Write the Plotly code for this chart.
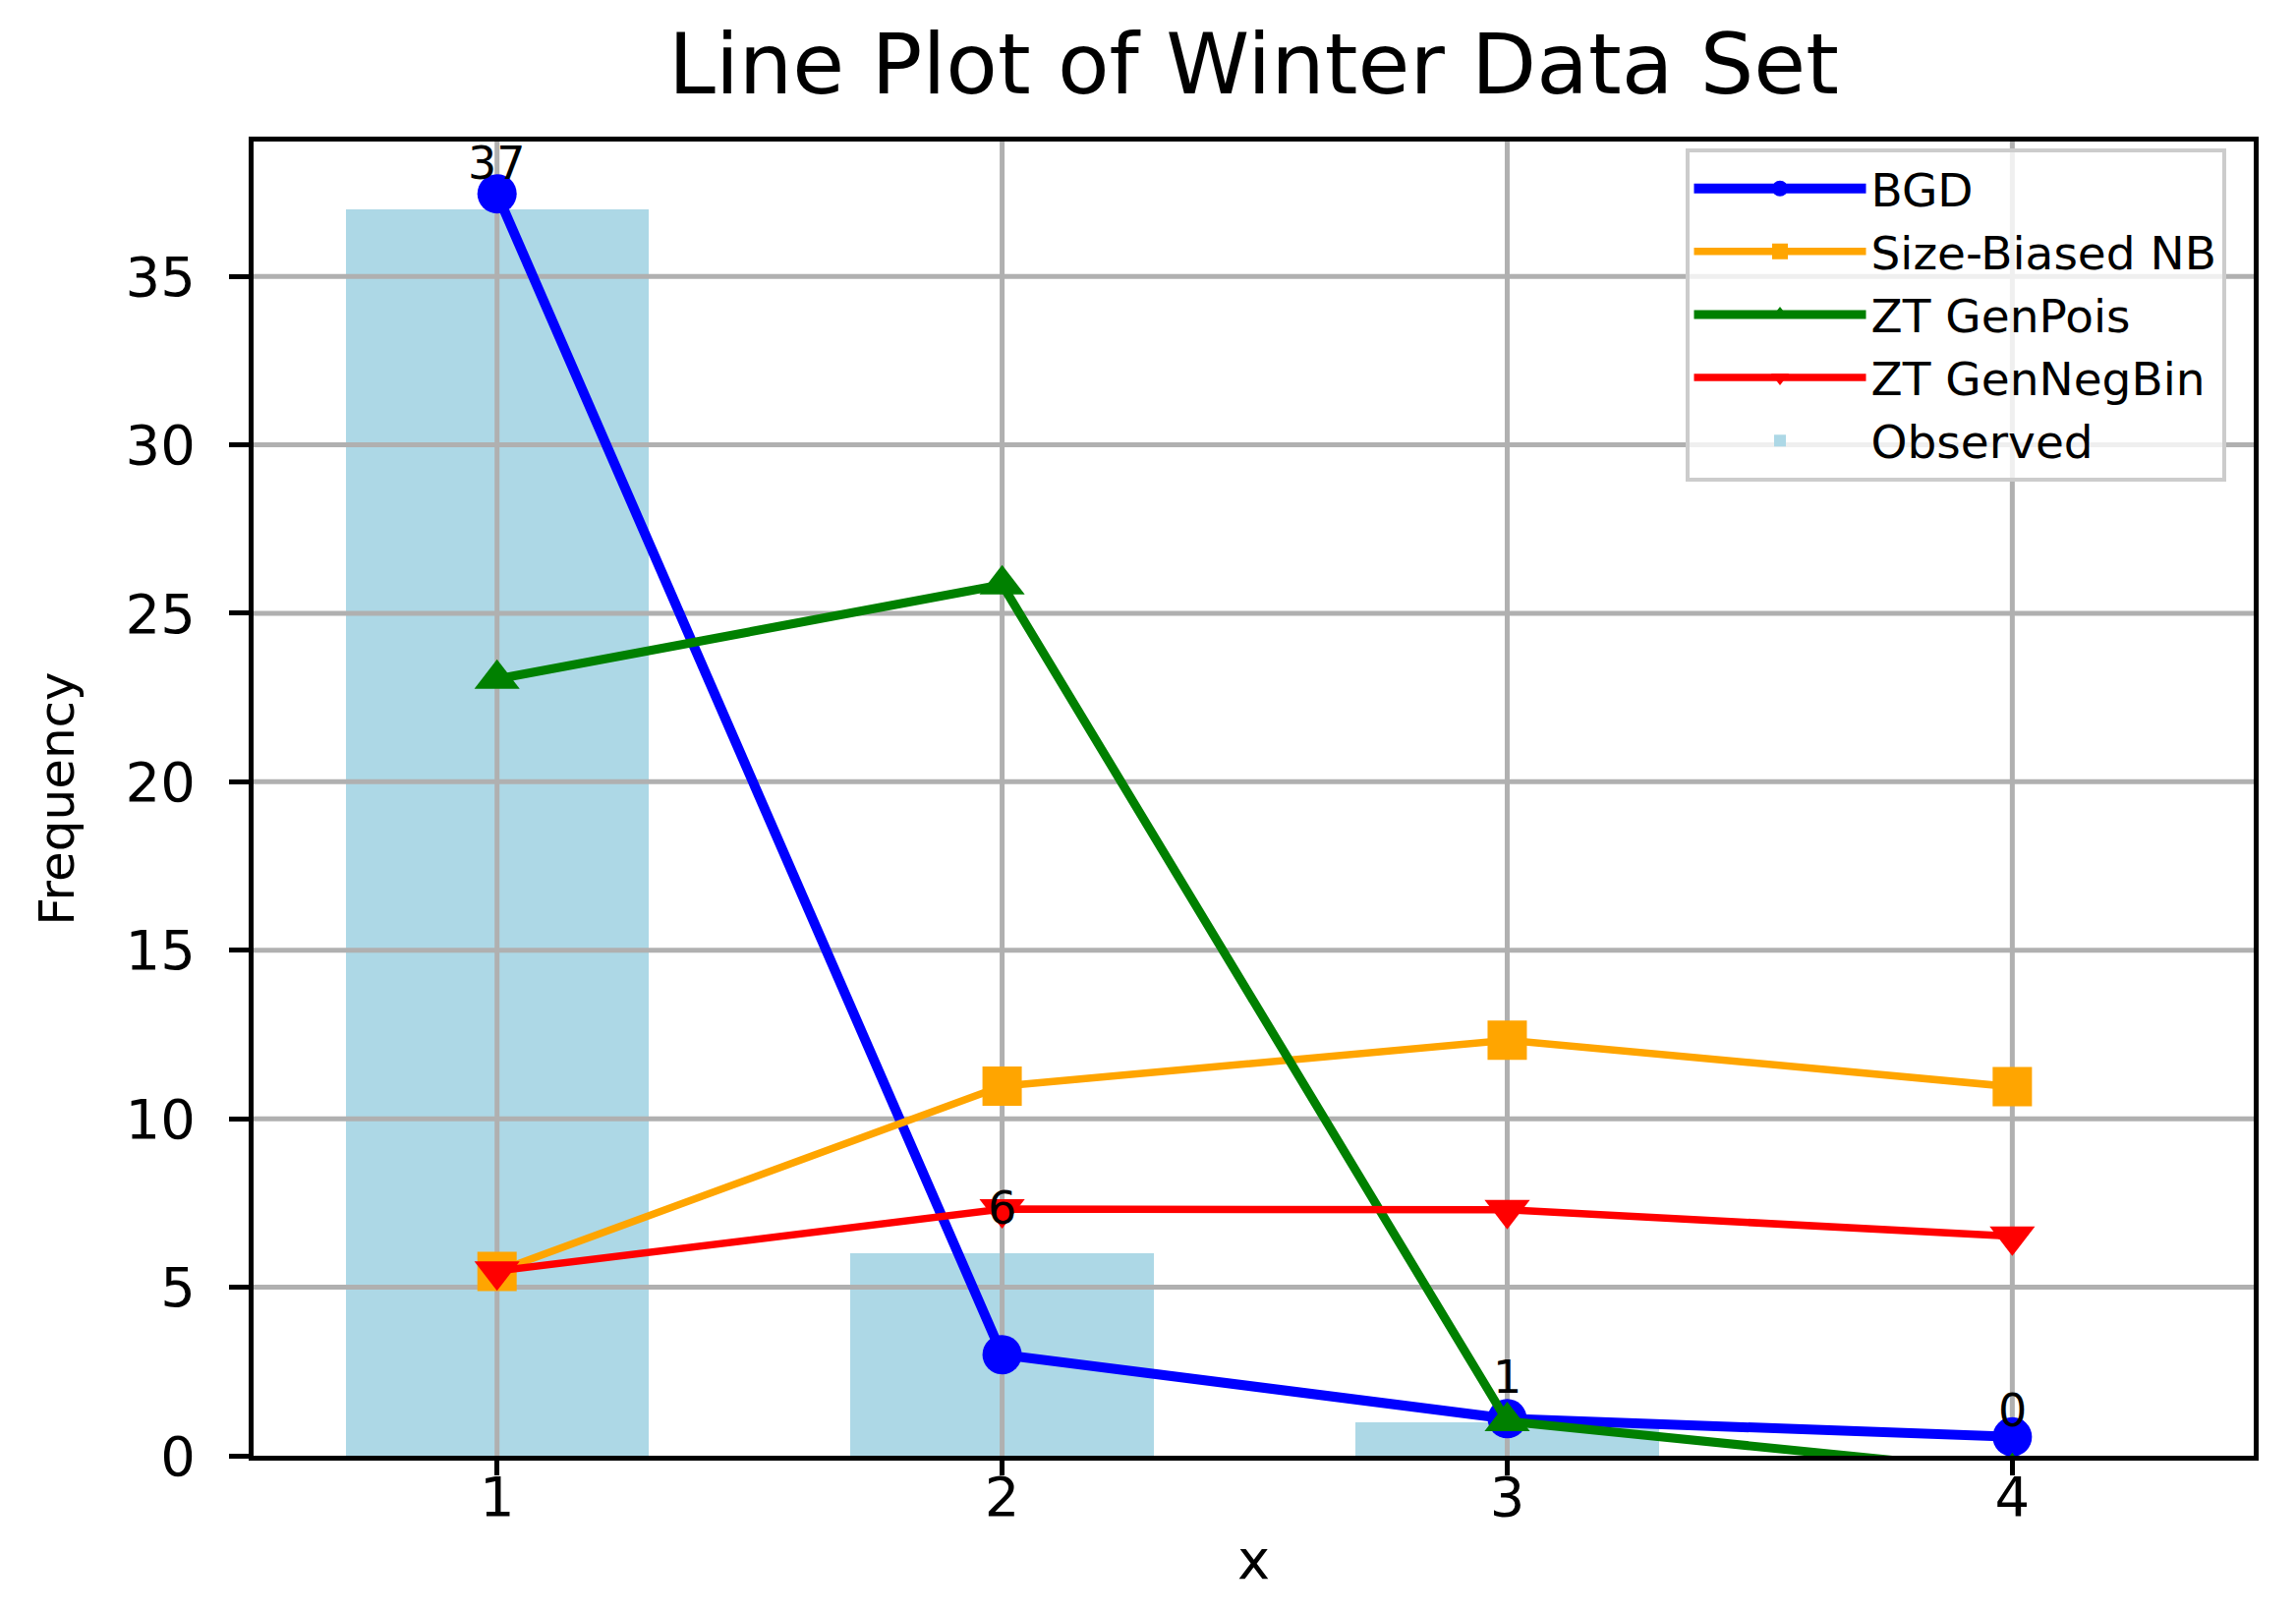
import plotly.graph_objects as go

# ---- data ----
x_vals = [1, 2, 3, 4]
observed = [37, 6, 1, 0]
bgd = [37.45, 3.0, 1.1, 0.56]
size_biased_nb = [5.47, 10.97, 12.33, 10.95]
zt_genpois = [23.05, 25.85, 1.02, -0.49]
zt_gennegbin = [5.48, 7.32, 7.30, 6.51]

x_ticks = [1, 2, 3, 4]
x_ticktext = ["1", "2", "3", "4"]
y_ticks = [0, 5, 10, 15, 20, 25, 30, 35]
y_ticktext = ["0", "5", "10", "15", "20", "25", "30", "35"]

x_range = [0.518, 4.478]
y_range = [0, 39.0]

FONT = "DejaVu Sans"
GRID = "#b0b0b0"

fig = go.Figure()

# grid lines drawn as a trace so they sit above the bars but below the lines
gx, gy = [], []
for yv in y_ticks[1:]:
    gx += [x_range[0], x_range[1], None]
    gy += [yv, yv, None]
for xv in x_ticks:
    gx += [xv, xv, None]
    gy += [y_range[0], y_range[1], None]
fig.add_trace(go.Scatter(x=gx, y=gy, mode="lines", line=dict(color=GRID, width=5),
                         showlegend=False, hoverinfo="skip"))

series = [
    ("BGD", bgd, "#0000ff", "circle", 10),
    ("Size-Biased NB", size_biased_nb, "#ffa500", "square", 7.5),
    ("ZT GenPois", zt_genpois, "#008000", "triangle-up", 9),
    ("ZT GenNegBin", zt_gennegbin, "#ff0000", "triangle-down", 7.5),
]
for name, vals, color, sym, lw in series:
    fig.add_trace(go.Scatter(
        x=x_vals, y=vals, mode="lines+markers", name=name,
        line=dict(color=color, width=lw),
        marker=dict(color=color, symbol=sym, size=40, line=dict(width=0)),
    ))

fig.add_trace(go.Bar(x=x_vals, y=observed, width=0.6, name="Observed",
                     marker=dict(color="#add8e6", line=dict(width=0))))

for xv, v in zip(x_vals, observed):
    fig.add_annotation(x=xv, y=v + 0.5, text=str(v), showarrow=False,
                       xanchor="center", yanchor="bottom",
                       font=dict(family=FONT, size=46, color="black"))

fig.update_layout(
    width=2336, height=1641,
    margin=dict(l=250, r=51, t=136, b=168),
    paper_bgcolor="white", plot_bgcolor="white",
    font=dict(family=FONT, color="black"),
    title=dict(text="Line Plot of Winter Data Set", x=(250 + 2285) / 2 / 2336, xanchor="center",
               y=1 - 27 / 1641, yanchor="top", yref="container",
               font=dict(family=FONT, size=86, color="black")),
    showlegend=True,
    legend=dict(x=0.986, xanchor="right", y=0.995, yanchor="top",
                bgcolor="rgba(255,255,255,0.8)", bordercolor="#cccccc", borderwidth=4,
                font=dict(family=FONT, size=47, color="black"),
                itemwidth=175, tracegroupgap=0),
    bargap=0,
)

fig.update_xaxes(range=x_range, tickmode="array", tickvals=x_ticks, ticktext=x_ticktext,
                 showgrid=False, zeroline=False,
                 showline=True, linecolor="black", linewidth=5, mirror=True,
                 ticks="outside", ticklen=15, tickwidth=5, tickcolor="black",
                 ticklabelstandoff=-26,
                 tickfont=dict(family=FONT, size=56, color="black"),
                 title=dict(text="x", font=dict(family=FONT, size=56, color="black"), standoff=14))
fig.update_yaxes(range=y_range, tickmode="array", tickvals=y_ticks, ticktext=y_ticktext,
                 showgrid=False, zeroline=False,
                 showline=True, linecolor="black", linewidth=5, mirror=True,
                 ticks="outside", ticklen=20, tickwidth=5, tickcolor="black",
                 ticklabelstandoff=23,
                 tickfont=dict(family=FONT, size=56, color="black"),
                 title=dict(text="Frequency", font=dict(family=FONT, size=50, color="black"), standoff=38))

fig.write_html("out.html")
